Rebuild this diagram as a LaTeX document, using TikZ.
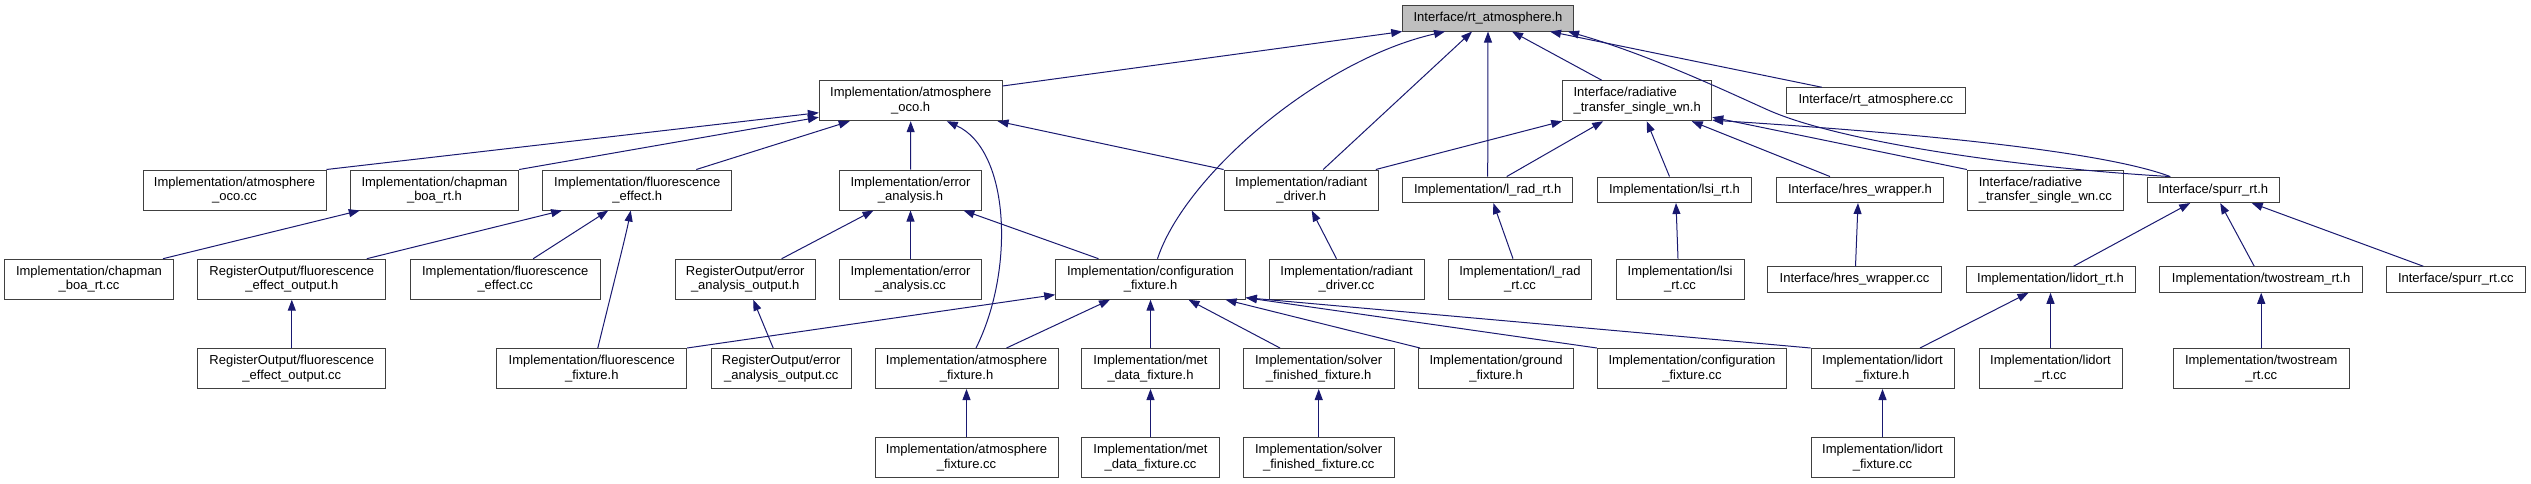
\documentclass[tikz,border=0pt]{standalone}
\usepackage{fontspec}
\setmainfont{Liberation Sans}
\usepackage{tikz}
\usetikzlibrary{arrows.meta}
\definecolor{EdgeBlue}{HTML}{191970}
\definecolor{RootGrey}{HTML}{BFBFBF}
\definecolor{BoxLine}{HTML}{404040}
\newcommand{\dxfont}{\fontsize{13}{14.5}\selectfont}
\tikzset{
  % File box (two lines)
  FB/.style={rectangle,draw=BoxLine,line width=1pt,inner sep=0pt,
             minimum height=40pt,align=center,font=\dxfont},
  % File box (one line)
  FS/.style={FB,minimum height=25.5pt},
  % Root file
  nR/.style={FS,fill=RootGrey},
  % Include arrow
  arr/.style={-{Triangle[length=11pt,width=8pt]},line width=1pt,draw=EdgeBlue}
}
\begin{document}
\begin{tikzpicture}[x=1pt,y=-1pt]
  \useasboundingbox (0,0) rectangle (2531,484);

  \node[nR,minimum width=170.6pt] (rtah) at (1488,18.3) {Interface/rt\_atmosphere.h};

  \node[FB,minimum width=182.7pt] (oco)  at (910.7,100.7)  {Implementation/atmosphere\\\_oco.h};
  \node[FB,minimum width=149pt,align=left] (wn) at (1637.2,100.7) {Interface/radiative\\\_transfer\_single\_wn.h};
  \node[FS,minimum width=179pt]   (rtcc) at (1875.8,100.5)  {Interface/rt\_atmosphere.cc};

  \node[FB,minimum width=183pt]   (ococc) at (234.5,190)  {Implementation/atmosphere\\\_oco.cc};
  \node[FB,minimum width=168.4pt] (chap)  at (434.5,190)  {Implementation/chapman\\\_boa\_rt.h};
  \node[FB,minimum width=189.3pt] (fe)    at (637.3,190)  {Implementation/fluorescence\\\_effect.h};
  \node[FB,minimum width=141.6pt] (err)   at (910.5,190)  {Implementation/error\\\_analysis.h};
  \node[FB,minimum width=154.3pt] (rad)   at (1301.2,190) {Implementation/radiant\\\_driver.h};
  \node[FS,minimum width=170pt]   (lrad)  at (1487.7,189.8) {Implementation/l\_rad\_rt.h};
  \node[FS,minimum width=154.4pt] (lsi)   at (1674.5,189.8) {Implementation/lsi\_rt.h};
  \node[FS,minimum width=166.6pt] (hres)  at (1860,189.8) {Interface/hres\_wrapper.h};
  \node[FB,minimum width=156pt,align=left] (wncc) at (2045.3,190) {Interface/radiative\\\_transfer\_single\_wn.cc};
  \node[FS,minimum width=132.3pt] (spurr) at (2213.2,189.8) {Interface/spurr\_rt.h};

  \node[FB,minimum width=168.6pt] (chapcc) at (89,279.2)    {Implementation/chapman\\\_boa\_rt.cc};
  \node[FB,minimum width=188.3pt] (feo)    at (291.8,279.2) {RegisterOutput/fluorescence\\\_effect\_output.h};
  \node[FB,minimum width=189.7pt] (fecc)   at (505.2,279.2) {Implementation/fluorescence\\\_effect.cc};
  \node[FB,minimum width=140.3pt] (eo)     at (745.2,279.2) {RegisterOutput/error\\\_analysis\_output.h};
  \node[FB,minimum width=141.6pt] (errcc)  at (910.5,279.2) {Implementation/error\\\_analysis.cc};
  \node[FB,minimum width=189.6pt] (cf)     at (1150.5,279.2) {Implementation/configuration\\\_fixture.h};
  \node[FB,minimum width=155pt]   (radcc)  at (1346.5,279.2) {Implementation/radiant\\\_driver.cc};
  \node[FB,minimum width=142.6pt] (lradcc) at (1520,279.2)  {Implementation/l\_rad\\\_rt.cc};
  \node[FB,minimum width=128pt]   (lsicc)  at (1680,279.2)  {Implementation/lsi\\\_rt.cc};
  \node[FS,minimum width=173.6pt] (hrescc) at (1854.5,279.5) {Interface/hres\_wrapper.cc};
  \node[FS,minimum width=169pt]   (lrt)    at (2050.5,279.5) {Implementation/lidort\_rt.h};
  \node[FS,minimum width=203pt]   (ts)     at (2261.2,279.5) {Implementation/twostream\_rt.h};
  \node[FS,minimum width=139pt]   (spurrcc) at (2455.8,279.5) {Interface/spurr\_rt.cc};

  \node[FB,minimum width=188.3pt] (feocc) at (291.8,368.5)  {RegisterOutput/fluorescence\\\_effect\_output.cc};
  \node[FB,minimum width=189.7pt] (ff)    at (591.8,368.5)  {Implementation/fluorescence\\\_fixture.h};
  \node[FB,minimum width=140.3pt] (eocc)  at (781.2,368.5)  {RegisterOutput/error\\\_analysis\_output.cc};
  \node[FB,minimum width=183pt]   (af)    at (966.5,368.5)  {Implementation/atmosphere\\\_fixture.h};
  \node[FB,minimum width=137.6pt] (met)   at (1150.5,368.5) {Implementation/met\\\_data\_fixture.h};
  \node[FB,minimum width=150.7pt] (sol)   at (1318.7,368.5) {Implementation/solver\\\_finished\_fixture.h};
  \node[FB,minimum width=154.6pt] (gnd)   at (1496,368.5)   {Implementation/ground\\\_fixture.h};
  \node[FB,minimum width=189.4pt] (cfcc)  at (1692,368.5)   {Implementation/configuration\\\_fixture.cc};
  \node[FB,minimum width=143pt]   (lf)    at (1882.5,368.5) {Implementation/lidort\\\_fixture.h};
  \node[FB,minimum width=143pt]   (lrtcc) at (2050.5,368.5) {Implementation/lidort\\\_rt.cc};
  \node[FB,minimum width=176.3pt] (tscc)  at (2261.2,368.5) {Implementation/twostream\\\_rt.cc};

  \node[FB,minimum width=183pt]   (afcc)  at (966.5,457.8)  {Implementation/atmosphere\\\_fixture.cc};
  \node[FB,minimum width=137.6pt] (metcc) at (1150.5,457.8) {Implementation/met\\\_data\_fixture.cc};
  \node[FB,minimum width=150.7pt] (solcc) at (1318.7,457.8) {Implementation/solver\\\_finished\_fixture.cc};
  \node[FB,minimum width=143pt]   (lfcc)  at (1882.5,457.8) {Implementation/lidort\\\_fixture.cc};

  \draw[arr]([yshift=14.7pt]oco.east) -- (rtah.south west);
  \draw[arr]([xshift=7pt]cf.north) .. controls (1185,175) and (1320,60) .. ([xshift=-43pt]rtah.south);
  \draw[arr]([xshift=22pt]rad.north) -- ([xshift=-16pt]rtah.south);
  \draw[arr](lrad.north) -- (rtah.south);
  \draw[arr]([xshift=-35.5pt]wn.north) -- ([xshift=24pt]rtah.south);
  \draw[arr]([xshift=-54pt]rtcc.north) -- ([xshift=62pt]rtah.south);
  \draw[arr]([xshift=-43pt]spurr.north) .. controls (2020,168) and (1840,142) .. (1768,110)
            .. controls (1730,93) and (1650,55) .. ([xshift=80pt]rtah.south);

  \draw[arr](ococc.north east) -- ([yshift=-12pt]oco.west);
  \draw[arr](chap.north east) -- ([yshift=4pt]oco.south west);
  \draw[arr]([xshift=59pt]fe.north) -- ([xshift=-61pt]oco.south);
  \draw[arr](err.north) -- (oco.south);
  \draw[arr]([xshift=9.5pt]af.north) .. controls (1015,270) and (1010,150) .. ([xshift=36pt]oco.south);
  \draw[arr](rad.north west) -- ([xshift=-5pt]oco.south east);

  \draw[arr]([xshift=74pt]chapcc.north) -- ([xshift=10pt]chap.south west);
  \draw[arr]([xshift=75pt]feo.north) -- ([xshift=20pt]fe.south west);
  \draw[arr]([xshift=28pt]fecc.north) -- ([xshift=-29pt]fe.south);
  \draw[arr]([xshift=6pt]ff.north) .. controls (612,290) and (626,235) .. ([xshift=-6.6pt]fe.south);
  \draw[arr](feocc.north) -- (feo.south);
  \draw[arr]([xshift=36.5pt]eo.north) -- ([xshift=-37pt]err.south);
  \draw[arr](errcc.north) -- (err.south);
  \draw[arr]([xshift=-52pt]cf.north) -- ([xshift=53pt]err.south);
  \draw[arr]([xshift=-8pt]eocc.north) -- ([xshift=8pt]eo.south);
  \draw[arr]([xshift=-10pt]radcc.north) -- ([xshift=10.5pt]rad.south);

  \draw[arr]([xshift=-3pt]rad.north east) -- (wn.south west);
  \draw[arr]([xshift=19pt]lrad.north) -- ([xshift=-34pt]wn.south);
  \draw[arr]([xshift=-5pt]lsi.north) -- ([xshift=9.5pt]wn.south);
  \draw[arr]([xshift=-30pt]hres.north) -- ([xshift=54.5pt]wn.south);
  \draw[arr](wncc.north west) -- ([yshift=4pt]wn.south east);
  \draw[arr]([xshift=-43pt]spurr.north) .. controls (2100,150) and (1900,132) .. ([yshift=1pt]wn.south east);
  \draw[arr]([xshift=-7pt]lradcc.north) -- ([xshift=5.6pt]lrad.south);
  \draw[arr]([xshift=-2pt]lsicc.north) -- ([xshift=1.5pt]lsi.south);
  \draw[arr]([xshift=1pt]hrescc.north) -- ([xshift=-2pt]hres.south);

  \draw[arr](ff.north east) -- ([yshift=5pt]cf.south west);
  \draw[arr]([xshift=40pt]af.north) -- ([xshift=-40.5pt]cf.south);
  \draw[arr](met.north) -- (cf.south);
  \draw[arr]([xshift=-38.7pt]sol.north) -- ([xshift=38pt]cf.south);
  \draw[arr]([xshift=-76pt]gnd.north) -- ([xshift=75pt]cf.south);
  \draw[arr](cfcc.north west) -- ([yshift=2pt]cf.south east);
  \draw[arr](lf.north west) -- ([yshift=2pt]cf.south east);

  \draw[arr]([xshift=37.5pt]lf.north) -- ([xshift=-22pt]lrt.south);
  \draw[arr](lrtcc.north) -- (lrt.south);
  \draw[arr]([xshift=23pt]lrt.north) -- ([xshift=-23pt]spurr.south);
  \draw[arr]([xshift=-7pt]ts.north) -- ([xshift=7pt]spurr.south);
  \draw[arr]([xshift=-32.5pt]spurrcc.north) -- ([xshift=38.5pt]spurr.south);
  \draw[arr](tscc.north) -- (ts.south);

  \draw[arr](afcc.north) -- (af.south);
  \draw[arr](metcc.north) -- (met.south);
  \draw[arr](solcc.north) -- (sol.south);
  \draw[arr](lfcc.north) -- (lf.south);
\end{tikzpicture}
\end{document}
